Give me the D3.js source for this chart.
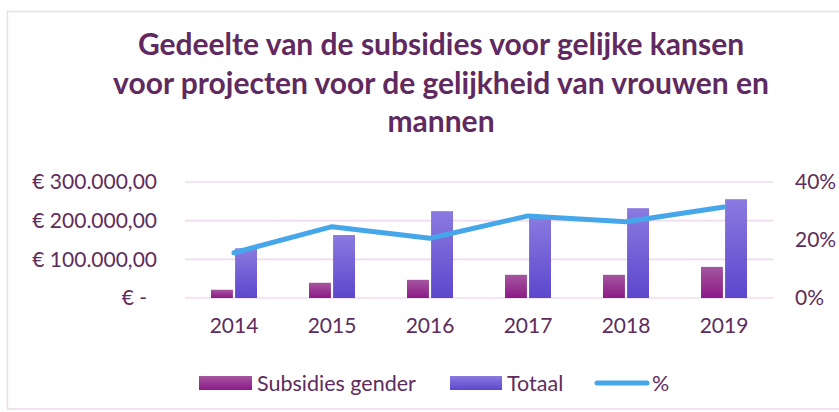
<!DOCTYPE html>
<html>
<head>
<meta charset="utf-8">
<script src="https://cdn.jsdelivr.net/npm/d3@7"></script>
<style>
  body { margin: 0; background: #fff; }
  text { font-family: Lato, "Open Sans", sans-serif; }
</style>
</head>
<body>
<div id="chartDiv"></div>
<script>

// data
var years = ["2014", "2015", "2016", "2017", "2018", "2019"];
var subsidiesGender = [21400, 39400, 47000, 60000, 60000, 80500];
var totaal = [128600, 162900, 224600, 212000, 232300, 255500];
var percentage = [0.156, 0.246, 0.206, 0.283, 0.263, 0.314];
var leftTicks = [0, 100000, 200000, 300000];
var rightTicks = [0, 0.2, 0.4];
var titleLines = ["Gedeelte van de subsidies voor gelijke kansen",
                  "voor projecten voor de gelijkheid van vrouwen en",
                  "mannen"];

function comboChart(){

	var width = 839, height = 412;
	var plot = {left: 185, right: 773, top: 182, bottom: 298};
	var textColor = "#5e2c5d";
	var labelSize = "21px";

	var svg = d3.select("#chartDiv")
	  .append("svg")
	    .attr("width", width)
	    .attr("height", height);

	// gradients for the bars
	var defs = svg.append("defs");
	function gradient(id, top, bottom) {
		var g = defs.append("linearGradient")
		    .attr("id", id)
		    .attr("x1", 0).attr("y1", 0).attr("x2", 0).attr("y2", 1);
		g.append("stop").attr("offset", "0%").attr("stop-color", top);
		g.append("stop").attr("offset", "100%").attr("stop-color", bottom);
	}
	gradient("gradGender", "#a4569f", "#8c1a87");
	gradient("gradTotaal", "#8b7ae0", "#5c47cc");

	// chart border
	svg.append("rect")
	    .attr("x", 7.5).attr("y", 11.5)
	    .attr("width", 860).attr("height", 397.5)
	    .attr("fill", "none")
	    .attr("stroke", "#efd9ee")
	    .attr("stroke-width", 1.5);

	// title
	svg.append("g").selectAll("text")
	    .data(titleLines)
	    .enter()
	    .append("text")
	    .attr("x", 441)
	    .attr("y", function(d, i) { return 55 + i * 38.5; })
	    .attr("text-anchor", "middle")
	    .attr("fill", "#60295f")
	    .style("font-size", "30px")
	    .style("font-weight", "bold")
	    .text(function(d) { return d; });

	// scales
	var x0 = d3.scaleBand()
	    .domain(years)
	    .range([plot.left, plot.right]);

	var x1 = d3.scaleBand()
	    .domain(["gender", "totaal"])
	    .range([-23, 23])
	    .paddingInner(0.09);

	var yLeft = d3.scaleLinear()
	    .domain([0, 300000])
	    .range([plot.bottom, plot.top]);

	var yRight = d3.scaleLinear()
	    .domain([0, 0.4])
	    .range([plot.bottom, plot.top]);

	// gridlines
	svg.append("g")
	    .selectAll("line")
	    .data(leftTicks)
	    .enter()
	    .append("line")
	    .attr("x1", plot.left)
	    .attr("x2", plot.right)
	    .attr("y1", function(d) { return yLeft(d); })
	    .attr("y2", function(d) { return yLeft(d); })
	    .attr("stroke", "#efdcef")
	    .attr("stroke-width", 1.6);

	// left axis (euro)
	var euro = d3.formatLocale({decimal: ",", thousands: ".", grouping: [3], currency: ["€ ", ""]});
	var fmtEuro = euro.format("$,.2f");
	var leftAxis = svg.append("g")
	    .attr("transform", "translate(157,0)")
	    .call(d3.axisLeft(yLeft)
	        .tickValues(leftTicks)
	        .tickSize(0)
	        .tickPadding(0)
	        .tickFormat(function(d) { return d === 0 ? "€ -" : fmtEuro(d); }));
	leftAxis.select(".domain").remove();
	leftAxis.selectAll("text")
	    .attr("fill", textColor)
	    .attr("dx", function(d) { return d === 0 ? -10 : 0; })
	    .style("font-size", labelSize)
	    .style("font-family", "Lato, sans-serif");

	// right axis (percent)
	var rightAxis = svg.append("g")
	    .attr("transform", "translate(795,0)")
	    .call(d3.axisRight(yRight)
	        .tickValues(rightTicks)
	        .tickSize(0)
	        .tickPadding(0)
	        .tickFormat(d3.format(".0%")));
	rightAxis.select(".domain").remove();
	rightAxis.selectAll("text")
	    .attr("fill", textColor)
	    .style("font-size", labelSize)
	    .style("font-family", "Lato, sans-serif");

	// x axis
	var xAxis = svg.append("g")
	    .attr("transform", "translate(0," + plot.bottom + ")")
	    .call(d3.axisBottom(x0).tickSize(0).tickPadding(20));
	xAxis.select(".domain").remove();
	xAxis.selectAll("text")
	    .attr("fill", textColor)
	    .style("font-size", labelSize)
	    .style("font-family", "Lato, sans-serif");

	// bars
	var groups = svg.append("g")
	    .selectAll("g")
	    .data(years)
	    .enter()
	    .append("g")
	    .attr("transform", function(d) { return "translate(" + (x0(d) + x0.bandwidth() / 2) + ",0)"; });

	groups.append("rect")
	    .attr("x", x1("gender"))
	    .attr("width", x1.bandwidth())
	    .attr("y", function(d, i) { return yLeft(subsidiesGender[i]); })
	    .attr("height", function(d, i) { return yLeft(0) - yLeft(subsidiesGender[i]); })
	    .attr("fill", "url(#gradGender)");

	groups.append("rect")
	    .attr("x", x1("totaal"))
	    .attr("width", x1.bandwidth())
	    .attr("y", function(d, i) { return yLeft(totaal[i]); })
	    .attr("height", function(d, i) { return yLeft(0) - yLeft(totaal[i]); })
	    .attr("fill", "url(#gradTotaal)");

	// percentage line
	var line = d3.line()
	    .x(function(d, i) { return x0(years[i]) + x0.bandwidth() / 2; })
	    .y(function(d) { return yRight(d); });

	svg.append("path")
	    .datum(percentage)
	    .attr("d", line)
	    .attr("fill", "none")
	    .attr("stroke", "#46a6ea")
	    .attr("stroke-width", 5)
	    .attr("stroke-linejoin", "round")
	    .attr("stroke-linecap", "round");

	// legend
	var legend = svg.append("g").attr("transform", "translate(0,383)");

	legend.append("rect")
	    .attr("x", 199).attr("y", -7)
	    .attr("width", 53).attr("height", 14)
	    .attr("fill", "url(#gradGender)");
	legend.append("text")
	    .attr("x", 257).attr("y", 7.5)
	    .attr("fill", textColor)
	    .style("font-size", "21.5px")
	    .text("Subsidies gender");

	legend.append("rect")
	    .attr("x", 450).attr("y", -7)
	    .attr("width", 52).attr("height", 14)
	    .attr("fill", "url(#gradTotaal)");
	legend.append("text")
	    .attr("x", 507).attr("y", 7.5)
	    .attr("fill", textColor)
	    .style("font-size", "21.5px")
	    .text("Totaal");

	legend.append("line")
	    .attr("x1", 597).attr("x2", 647)
	    .attr("y1", 0).attr("y2", 0)
	    .attr("stroke", "#46a6ea")
	    .attr("stroke-width", 5)
	    .attr("stroke-linecap", "round");
	legend.append("text")
	    .attr("x", 652).attr("y", 7.5)
	    .attr("fill", textColor)
	    .style("font-size", "21.5px")
	    .text("%");
}

comboChart();

</script>
</body>
</html>
